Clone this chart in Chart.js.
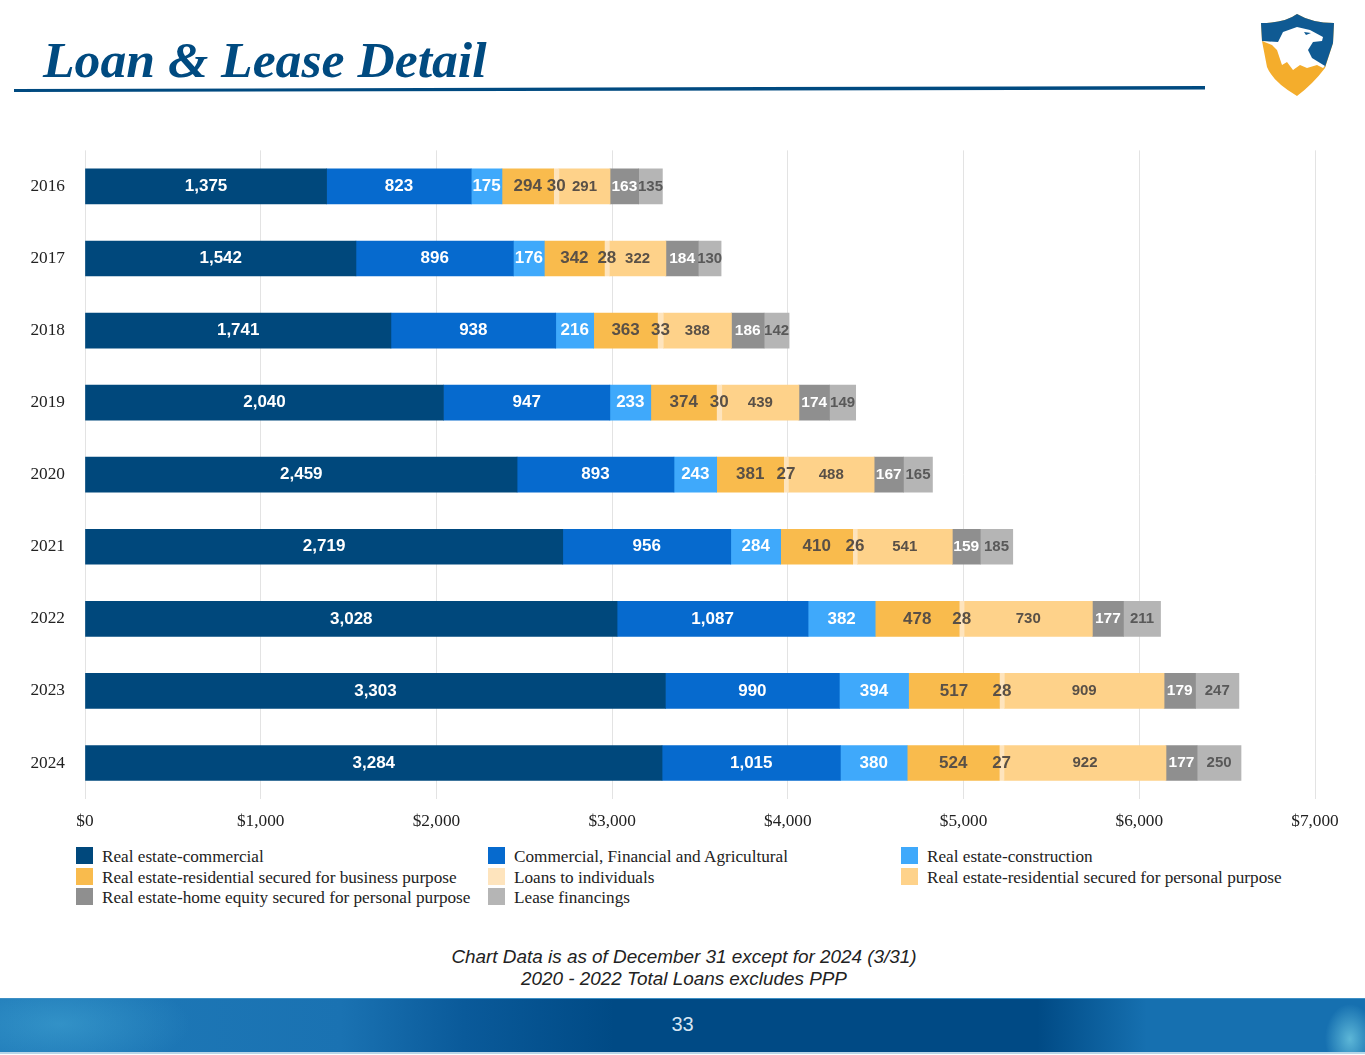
<!DOCTYPE html>
<html>
<head>
<meta charset="utf-8">
<title>Loan & Lease Detail</title>
<script src="https://cdn.jsdelivr.net/npm/chart.js@4"></script>
<style>
    html, body { margin: 0; padding: 0; background: #fff; }
    #page { position: relative; width: 1365px; height: 1055px; overflow: hidden; background: #fff; }
    #title {
        position: absolute; left: 43px; top: 30px; margin: 0;
        font: italic bold 51.7px 'Liberation Serif', serif; color: #004a80; white-space: nowrap;
    }
    #rule, #logo { position: absolute; left: 0; top: 0; }
    #chartBox { position: absolute; left: 0; top: 120px; width: 1365px; height: 720px; }
    .legend-item {
        position: absolute; height: 20px; line-height: 22px; padding-left: 26px;
        font: 17.2px/22px 'Liberation Serif', serif; color: #222; white-space: nowrap;
    }
    .legend-item i { position: absolute; left: 0; top: 1px; width: 17px; height: 17px; }
    #note {
        position: absolute; left: 284px; width: 800px; top: 946px; text-align: center;
        font: italic 18.9px/22px 'Liberation Sans', sans-serif; color: #222;
    }
    #footer {
        position: absolute; left: 0; top: 998px; width: 1365px; height: 54px;
        border-top: 1px solid #3d8fc4; border-bottom: 2px solid #b9d6e8; box-sizing: border-box; height: 56px;
        background:
            radial-gradient(ellipse 130px 50px at 60px 25px, rgba(70, 170, 215, 0.5), rgba(70, 170, 215, 0) 100%),
            radial-gradient(ellipse 25px 35px at 1350px 40px, rgba(110, 200, 225, 0.8), rgba(110, 200, 225, 0) 100%),
            linear-gradient(90deg, #1f7ab8 0%, #1a72b2 25%, #0a5a9a 34%, #004a85 45%, #004a85 76%, #1670b0 84%, #1670b0 100%);
        color: #d8e6f2; text-align: center;
        font: 20px/50px 'Liberation Sans', sans-serif;
    }
</style>
</head>
<body>
<div id="page">
    <h1 id="title">Loan &amp; Lease Detail</h1>
    <svg id="rule" width="1365" height="100"><polygon points="14,89 1205,86 1205,89.5 14,92" fill="#004a80"/></svg>
    <svg id="logo" width="1365" height="100">
        <path d="M1261 23 Q1285 23 1297 14 Q1312 23 1334 23 L1333 43 L1325 68 Q1313 84 1297 96 Q1273 82 1267 67 L1262 41 Z" fill="#f4ad2c"/>
        <path d="M1261 23 Q1285 23 1297 14 Q1312 23 1334 23 L1333 43 L1325 67 L1290 45 L1262 41 Z" fill="#0f5a93"/>
        <path d="M1262 41 L1278 42 L1283 32 L1297 27 L1310 30 L1323 37 L1322 41 L1313 42 L1308 50 L1312 58 L1325 66 L1323 68 L1317 65 L1307 68 L1300 65 L1293 70 L1287 62 L1282 65 L1277 50 L1272 45 Z" fill="#fff"/>
        <path d="M1304 32 L1311 33 L1306 35 Z" fill="#0f5a93"/>
    </svg>
    <div id="chartBox"><canvas id="loanChart"></canvas></div>
    <div id="legend"></div>
    <div id="note">Chart Data is as of December 31 except for 2024 (3/31)<br>2020 - 2022 Total Loans excludes PPP</div>
    <div id="footer">33</div>
</div>

<script>
const years = ['2016', '2017', '2018', '2019', '2020', '2021', '2022', '2023', '2024'];
const xTicks = [0, 1000, 2000, 3000, 4000, 5000, 6000, 7000];

const seriesNames = [
    'Real estate-commercial',
    'Commercial, Financial and Agricultural',
    'Real estate-construction',
    'Real estate-residential secured for business purpose',
    'Loans to individuals',
    'Real estate-residential secured for personal purpose',
    'Real estate-home equity secured for personal purpose',
    'Lease financings'
];
const seriesColors = ['#00487c', '#066ace', '#3fa9fb', '#f9bb4d', '#fee4bd', '#fed28a', '#8f8f8f', '#b5b5b5'];
const labelColors = ['#fff', '#fff', '#fff', '#595047', '#595047', '#595047', '#fff', '#595959'];
const labelSizes = [17, 17, 17, 17, 17, 15, 15.5, 15];

const commercialRE = [1375, 1542, 1741, 2040, 2459, 2719, 3028, 3303, 3284];
const commercialFinancial = [823, 896, 938, 947, 893, 956, 1087, 990, 1015];
const construction = [175, 176, 216, 233, 243, 284, 382, 394, 380];
const residentialBusiness = [294, 342, 363, 374, 381, 410, 478, 517, 524];
const individuals = [30, 28, 33, 30, 27, 26, 28, 28, 27];
const residentialPersonal = [291, 322, 388, 439, 488, 541, 730, 909, 922];
const homeEquity = [163, 184, 186, 174, 167, 159, 177, 179, 177];
const leases = [135, 130, 142, 149, 165, 185, 211, 247, 250];

const seriesValues = [commercialRE, commercialFinancial, construction, residentialBusiness,
    individuals, residentialPersonal, homeEquity, leases];

// Value labels drawn in the middle of each bar segment
const segmentLabels = {
    id: 'segmentLabels',
    afterDatasetsDraw(chart) {
        const ctx = chart.ctx;
        ctx.save();
        ctx.textAlign = 'center';
        ctx.textBaseline = 'middle';
        chart.data.datasets.forEach((dataset, i) => {
            ctx.fillStyle = labelColors[i];
            ctx.font = 'bold ' + labelSizes[i] + "px 'Liberation Sans', sans-serif";
            chart.getDatasetMeta(i).data.forEach((bar, j) => {
                const center = bar.getCenterPoint();
                ctx.fillText(dataset.data[j].toLocaleString('en-US'), center.x, center.y);
            });
        });
        ctx.restore();
    }
};

new Chart(document.getElementById('loanChart'), {
    type: 'bar',
    data: {
        labels: years,
        datasets: seriesNames.map((name, i) => ({
            label: name,
            data: seriesValues[i],
            backgroundColor: seriesColors[i],
            borderWidth: 0,
            barThickness: 35
        }))
    },
    options: {
        indexAxis: 'y',
        responsive: true,
        maintainAspectRatio: false,
        animation: false,
        layout: { padding: { top: 8, right: 50, left: 0, bottom: 0 } },
        plugins: {
            legend: { display: false },
            tooltip: { enabled: false }
        },
        scales: {
            x: {
                stacked: true,
                min: 0,
                max: 7000,
                afterBuildTicks: axis => { axis.ticks = xTicks.map(v => ({ value: v })); },
                afterFit: axis => { axis.height = 41; },
                grid: { color: '#e3e3e3', drawTicks: false },
                border: { display: false },
                ticks: {
                    color: '#222',
                    padding: 12,
                    maxRotation: 0,
                    font: { family: "'Liberation Serif', serif", size: 17.3 },
                    callback: value => '$' + value.toLocaleString('en-US')
                }
            },
            y: {
                stacked: true,
                afterFit: axis => { axis.width = 85; },
                grid: { display: false, drawTicks: false },
                border: { display: false },
                ticks: {
                    color: '#222',
                    padding: 20,
                    font: { family: "'Liberation Serif', serif", size: 17.3 }
                }
            }
        }
    },
    plugins: [segmentLabels]
});

// Legend in three columns, filled row by row
const legendBox = document.getElementById('legend');
const legendLeft = [76, 488, 901];
const legendTop = [846, 867, 887];
seriesNames.forEach((name, i) => {
    const item = document.createElement('div');
    item.className = 'legend-item';
    item.style.left = legendLeft[i % 3] + 'px';
    item.style.top = legendTop[Math.floor(i / 3)] + 'px';
    item.innerHTML = '<i style="background:' + seriesColors[i] + '"></i>' + name;
    legendBox.appendChild(item);
});
</script>
</body>
</html>
